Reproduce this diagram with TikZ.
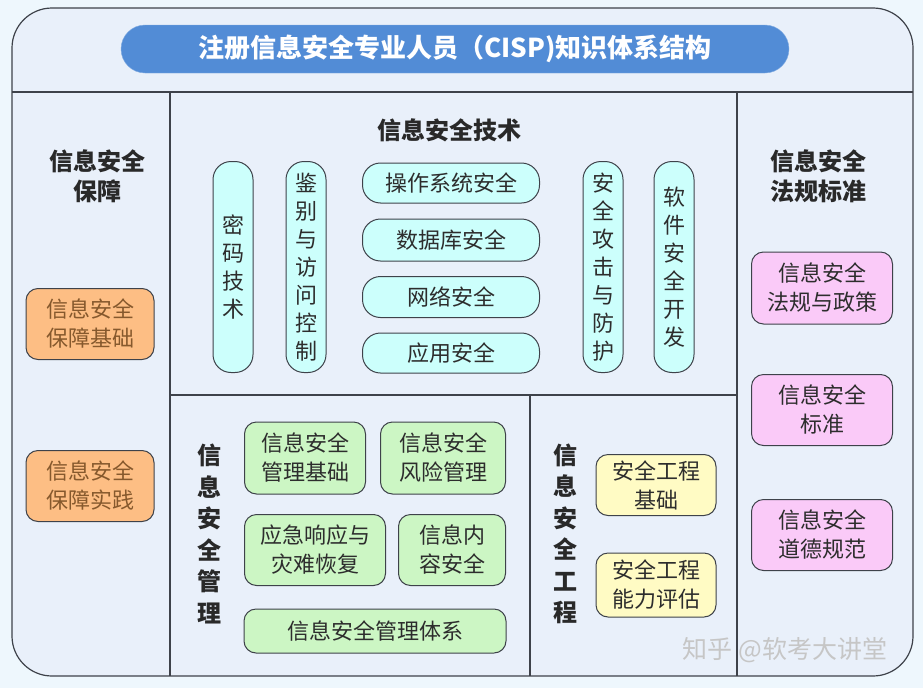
\documentclass[tikz,border=0pt]{standalone}
\usepackage{fontspec}
\newfontfamily\cjk{Noto Sans CJK SC}
\usetikzlibrary{positioning}
\definecolor{cbg}{RGB}{238,247,253}
\definecolor{cpanel}{RGB}{233,240,250}
\definecolor{cline}{RGB}{62,66,74}
\definecolor{ctitle}{RGB}{82,140,214}
\definecolor{ccyan}{RGB}{204,255,252}
\definecolor{corange}{RGB}{253,190,132}
\definecolor{cgreen}{RGB}{204,246,196}
\definecolor{cyellow}{RGB}{255,251,196}
\definecolor{cpink}{RGB}{250,202,248}
\definecolor{ctext}{RGB}{45,45,45}
\tikzset{
  box/.style={rectangle, rounded corners=12pt,
    draw=cline, fill=#1, line width=1pt,
    font=\cjk\fontsize{22}{29}\selectfont, text=ctext,
    align=center, inner sep=0pt},
  pill/.style={box=ccyan, rounded corners=18pt, font=\cjk\fontsize{22}{28}\selectfont},
  head/.style={font=\cjk\bfseries\fontsize{24}{30}\selectfont, text=ctext!90!black, align=center},
  frame/.style={draw=cline, line width=1.2pt}
}
\begin{document}
\begin{tikzpicture}[x=1pt, y=-1pt]
    \useasboundingbox[fill=cbg] (0,0) rectangle (923,688);
    % outer panel and section lines
    \draw[frame, fill=cpanel, rounded corners=40pt] (12,8) rectangle (913,676);
    \draw[frame] (12,92) -- (913,92);
    \draw[frame] (170,92) -- (170,676);
    \draw[frame] (737,92) -- (737,676);
    \draw[frame] (170,395) -- (737,395);
    \draw[frame] (530,395) -- (530,676);

    \node[rectangle, rounded corners=24pt, fill=ctitle, draw=ctitle!70!white,
      minimum width=668pt, minimum height=48pt, text=white,
      font=\cjk\bfseries\fontsize{26}{30}\selectfont] (title) at (455,49)
      {注册信息安全专业人员（CISP)知识体系结构};

    % left: assurance
    \node[head] (bz) at (97,176) {信息安全\\保障};
    \node[box=corange, text=brown!70!black, minimum width=128pt, minimum height=71pt] (bzjc) at (90,324) {信息安全\\保障基础};
    \node[box=corange, text=brown!70!black, minimum width=128pt, minimum height=71pt] (bzsj) at (90,486) {信息安全\\保障实践};

    % middle: technology
    \node[head] (js) at (449,130) {信息安全技术};
    \node[pill, minimum width=40pt, minimum height=211pt] (mm) at (233,267) {密\\码\\技\\术};
    \node[pill, minimum width=40pt, minimum height=211pt] (jb) at (306,267) {鉴\\别\\与\\访\\问\\控\\制};
    \node[pill, minimum width=177pt, minimum height=40pt] (czxt) at (451,183) {操作系统安全};
    \node[pill, minimum width=177pt, minimum height=42pt] (sjk) at (451,240) {数据库安全};
    \node[pill, minimum width=177pt, minimum height=41pt] (wl) at (451,297) {网络安全};
    \node[pill, minimum width=177pt, minimum height=40pt] (yy) at (451,353) {应用安全};
    \node[pill, minimum width=40pt, minimum height=211pt] (gj) at (603,267) {安\\全\\攻\\击\\与\\防\\护};
    \node[pill, minimum width=40pt, minimum height=211pt] (rj) at (674,267) {软\\件\\安\\全\\开\\发};

    % bottom: management
    \node[head, font=\cjk\bfseries\fontsize{24}{31.5}\selectfont] (gl) at (209,534) {信\\息\\安\\全\\管\\理};
    \node[box=cgreen, minimum width=121pt, minimum height=72pt] (gljc) at (305,458) {信息安全\\管理基础};
    \node[box=cgreen, minimum width=125pt, minimum height=72pt] (fxgl) at (443,458) {信息安全\\风险管理};
    \node[box=cgreen, minimum width=141pt, minimum height=71pt] (yjxy) at (315,550) {应急响应与\\灾难恢复};
    \node[box=cgreen, minimum width=107pt, minimum height=71pt] (nraq) at (452,550) {信息内\\容安全};
    \node[box=cgreen, minimum width=262pt, minimum height=44pt] (gltx) at (375,631) {信息安全管理体系};

    % bottom: engineering
    \node[head, font=\cjk\bfseries\fontsize{24}{31.5}\selectfont] (gc) at (565,534) {信\\息\\安\\全\\工\\程};
    \node[box=cyellow, minimum width=120pt, minimum height=61pt] (gcjc) at (656,485) {安全工程\\基础};
    \node[box=cyellow, minimum width=120pt, minimum height=64pt] (nlpg) at (656,585) {安全工程\\能力评估};

    % right: law and standards
    \node[head] (fg) at (818,176) {信息安全\\法规标准};
    \node[box=cpink, minimum width=141pt, minimum height=72pt] (fgzc) at (822,288) {信息安全\\法规与政策};
    \node[box=cpink, minimum width=141pt, minimum height=71pt] (bz2) at (822,410) {信息安全\\标准};
    \node[box=cpink, minimum width=141pt, minimum height=71pt] (ddgf) at (822,535) {信息安全\\道德规范};

    \node[font=\cjk\fontsize{25}{28}\selectfont, text=gray!45] (wm) at (785,650) {知乎 @软考大讲堂};
\end{tikzpicture}
\end{document}
